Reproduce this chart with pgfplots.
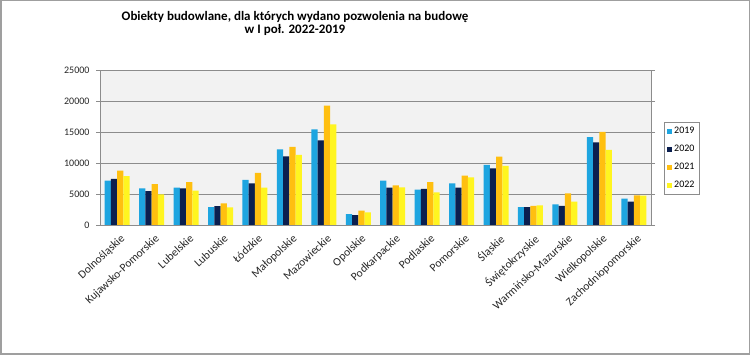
\documentclass[border=0pt]{standalone}
\usepackage{pgfplots}
\pgfplotsset{compat=1.18}
\usepackage{pgfplotstable}
\usepackage{fontspec}
\setmainfont{Carlito}
\definecolor{c19}{HTML}{1EA5E0}
\definecolor{c20}{HTML}{0B1F4F}
\definecolor{c21}{HTML}{FFBF10}
\definecolor{c22}{HTML}{FFF520}
\definecolor{plotbg}{HTML}{F2F2F2}
\definecolor{gridc}{HTML}{8C8C8C}
\pgfplotstableread{
idx y19 y20 y21 y22
0 7150 7420 8760 7900
1 5910 5480 6610 4950
2 6020 5910 6930 5540
3 2900 3060 3490 2850
4 7260 6720 8390 6020
5 12200 11080 12580 11290
6 15430 13660 19250 16240
7 1750 1610 2310 2040
8 7150 6020 6400 6050
9 5700 5810 6930 5270
10 6720 6020 7960 7690
11 9680 9140 11020 9520
12 2900 2900 3070 3170
13 3330 3070 5110 3760
14 14190 13330 15000 12100
15 4250 3760 4790 4730
}\datatable
\begin{document}
\begin{tikzpicture}[x=1pt,y=1pt]
\useasboundingbox (0,0) rectangle (750,355);
\draw[gray!75, line width=1.5pt] (0.75,0.75) rectangle (749.25,354.25);
\node[font=\bfseries\fontsize{13}{15}\selectfont] at (295,338) {Obiekty budowlane, dla których wydano pozwolenia na budowę};
\node[font=\bfseries\fontsize{13}{15}\selectfont] at (295,325) {w I poł. 2022-2019};
\begin{axis}[
  at={(100pt,130pt)}, anchor=south west,
  scale only axis, width=551pt, height=155pt,
  ybar=0pt, bar width=6.25pt,
  xmin=-0.5, xmax=15.5, ymin=0, ymax=25000,
  ytick={0,5000,...,25000},
  scaled y ticks=false,
  xtick={0,...,15},
  xticklabels={Dolnośląskie,Kujawsko-Pomorskie,Lubelskie,Lubuskie,Łódzkie,Małopolskie,Mazowieckie,Opolskie,Podkarpackie,Podlaskie,Pomorskie,Śląskie,Świętokrzyskie,Warmińsko-Mazurskie,Wielkopolskie,Zachodniopomorskie},
  x tick style={draw=none},
  extra x ticks={-0.5,0.5,...,15.5},
  extra x tick labels={},
  extra x tick style={major tick length=4pt, tick align=outside, tick style={draw=gridc}, grid=none},
  y tick style={draw=gridc},
  major tick length=4pt, tick align=outside,
  ymajorgrids, grid style={draw=gridc, line width=0.8pt},
  axis line style={draw=gridc, line width=0.8pt},
  axis background/.style={fill=plotbg},
  /pgf/number format/assume math mode=true,
  /pgf/number format/1000 sep={},
  yticklabel style={font=\fontsize{10}{12}\selectfont, text=black!85, xshift=-3pt},
  xticklabel style={font=\fontsize{11.5}{13}\selectfont, rotate=43, anchor=north east, inner sep=1pt, text=black!85, yshift=-4pt},
  legend style={at={(1.0236,0.6645)}, anchor=north west, draw=gridc, fill=white,
    font=\fontsize{10}{12}\selectfont, row sep=6pt, inner sep=3pt},
  legend cell align=left,
  legend image code/.code={\fill[#1] (0pt,-2.5pt) rectangle (5pt,2.5pt);},
]
\addplot[fill=c19, draw=none] table[x=idx, y=y19] {\datatable};
\addplot[fill=c20, draw=none] table[x=idx, y=y20] {\datatable};
\addplot[fill=c21, draw=none] table[x=idx, y=y21] {\datatable};
\addplot[fill=c22, draw=none] table[x=idx, y=y22] {\datatable};
\legend{2019,2020,2021,2022}
\end{axis}
\end{tikzpicture}
\end{document}
